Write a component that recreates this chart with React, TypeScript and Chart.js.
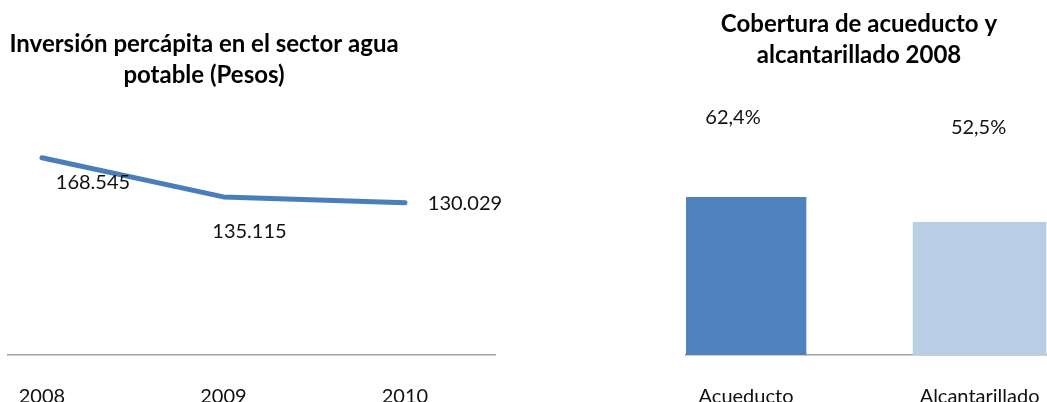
import React, { useEffect, useRef } from "react";
import { Chart, registerables } from "chart.js";

Chart.register(...registerables);

// ---- Data ----
const years = ["2008", "2009", "2010"];
const inversion = [168545, 135115, 130029];
const inversionLabels = ["168.545", "135.115", "130.029"];

const coberturaCats = ["Acueducto", "Alcantarillado"];
const coberturaValues = [62.4, 52.5];
const coberturaLabels = ["62,4%", "52,5%"];

const leftTitle = ["Inversión percápita en el sector agua", "potable (Pesos)"];
const rightTitle = ["Cobertura de acueducto y", "alcantarillado 2008"];

// ---- Styles ----
const FONT = "Lato, 'Open Sans', sans-serif";
const LINE_COLOR = "#4A7EBB";
const BAR_COLORS = ["#4F81BD", "#B9CDE5"];
const BAR_WIDTHS = [120, 133];
const AXIS_COLOR = "#A0A0A0";
const TICK_PAD = 30;
const CANVAS_H = 439;
const lineLabelOffsets = [
  [51, 25],
  [26, 35],
  [60, 1],
];
const barLabelOffsets = [
  [-13, -80],
  [-1, -95],
];

function titlePlugin(lines: string[], cx: number, ys: number[]) {
  return {
    id: "customTitle",
    afterDraw(chart: any) {
      const ctx = chart.ctx;
      ctx.save();
      ctx.font = `bold 24px ${FONT}`;
      ctx.fillStyle = "#000";
      ctx.textAlign = "center";
      ctx.textBaseline = "middle";
      lines.forEach((l, i) => ctx.fillText(l, cx, ys[i]));
      ctx.restore();
    },
  };
}

const tickFont = { family: FONT, size: 20 };

function LineChart() {
  const ref = useRef<HTMLCanvasElement>(null);
  useEffect(() => {
    const labelsPlugin = {
      id: "lineLabels",
      afterDatasetsDraw(chart: any) {
        const ctx = chart.ctx;
        const meta = chart.getDatasetMeta(0);
        ctx.save();
        ctx.font = `20px ${FONT}`;
        ctx.fillStyle = "#111";
        ctx.textAlign = "center";
        ctx.textBaseline = "middle";
        meta.data.forEach((pt: any, i: number) => {
          const [dx, dy] = lineLabelOffsets[i];
          ctx.fillText(inversionLabels[i], pt.x + dx, pt.y + dy);
        });
        ctx.restore();
      },
    };
    const chart = new Chart(ref.current!, {
      type: "line",
      data: {
        datasets: [
          {
            data: inversion.map((v, i) => ({ x: i, y: v })),
            borderColor: LINE_COLOR,
            borderWidth: 5,
            pointRadius: 0,
            borderCapStyle: "round",
            borderJoinStyle: "round",
            tension: 0,
          },
        ],
      },
      options: {
        animation: false,
        responsive: false,
        layout: { padding: { left: 48, right: 25, top: 121, bottom: 0 } },
        plugins: { legend: { display: false }, tooltip: { enabled: false }, title: { display: false } },
        scales: {
          x: {
            type: "linear",
            min: -0.187,
            max: 2.496,
            offset: false,
            afterBuildTicks: (s: any) => {
              s.ticks = years.map((_, i) => ({ value: i }));
            },
            ticks: {
              callback: (v: any) => years[v] ?? "",
              font: tickFont,
              color: "#111",
              padding: TICK_PAD,
              maxRotation: 0,
              autoSkip: false,
            },
            grid: { display: false, drawTicks: false },
            border: { display: true, color: AXIS_COLOR, width: 1.5 },
          },
          y: { display: false, min: 0, max: 200000 },
        },
      },
      plugins: [labelsPlugin, titlePlugin(leftTitle, 244, [44, 75])],
    } as any);
    return () => chart.destroy();
  }, []);
  return <canvas ref={ref} width={560} height={CANVAS_H} style={{ position: "absolute", left: -40, top: 0 }} />;
}

function BarChart() {
  const ref = useRef<HTMLCanvasElement>(null);
  useEffect(() => {
    const labelsPlugin = {
      id: "barLabels",
      afterDatasetsDraw(chart: any) {
        const ctx = chart.ctx;
        ctx.save();
        ctx.font = `20px ${FONT}`;
        ctx.fillStyle = "#111";
        ctx.textAlign = "center";
        ctx.textBaseline = "middle";
        coberturaValues.forEach((_, i) => {
          const el = chart.getDatasetMeta(i).data[0];
          const [dx, dy] = barLabelOffsets[i];
          ctx.fillText(coberturaLabels[i], el.x + dx, el.y + dy);
        });
        ctx.restore();
      },
    };
    const chart = new Chart(ref.current!, {
      type: "bar",
      data: {
        datasets: coberturaValues.map((v, i) => ({
          label: coberturaCats[i],
          data: [{ x: i, y: v }],
          backgroundColor: BAR_COLORS[i],
          barThickness: BAR_WIDTHS[i],
          grouped: false,
          borderWidth: 0,
        })),
      },
      options: {
        animation: false,
        responsive: false,
        layout: { padding: { left: 46, right: 0, top: 153, bottom: 0 } },
        plugins: { legend: { display: false }, tooltip: { enabled: false }, title: { display: false } },
        scales: {
          x: {
            type: "linear",
            min: -0.257,
            max: 1.46,
            offset: false,
            afterBuildTicks: (s: any) => {
              s.ticks = coberturaCats.map((_, i) => ({ value: i }));
            },
            ticks: {
              callback: (v: any) => coberturaCats[v] ?? "",
              font: tickFont,
              color: "#111",
              padding: TICK_PAD,
              maxRotation: 0,
              autoSkip: false,
            },
            grid: { display: false, drawTicks: false },
            border: { display: true, color: AXIS_COLOR, width: 1.5 },
          },
          y: { display: false, min: 0, max: 80 },
        },
      },
      plugins: [labelsPlugin, titlePlugin(rightTitle, 219, [24, 55])],
    } as any);
    return () => chart.destroy();
  }, []);
  return <canvas ref={ref} width={447} height={CANVAS_H} style={{ position: "absolute", left: 640, top: 0 }} />;
}

export default function App() {
  return (
    <div
      style={{
        position: "absolute",
        left: 0,
        top: 0,
        width: 1047,
        height: 402,
        overflow: "hidden",
        background: "#fff",
      }}
    >
      <LineChart />
      <BarChart />
    </div>
  );
}
